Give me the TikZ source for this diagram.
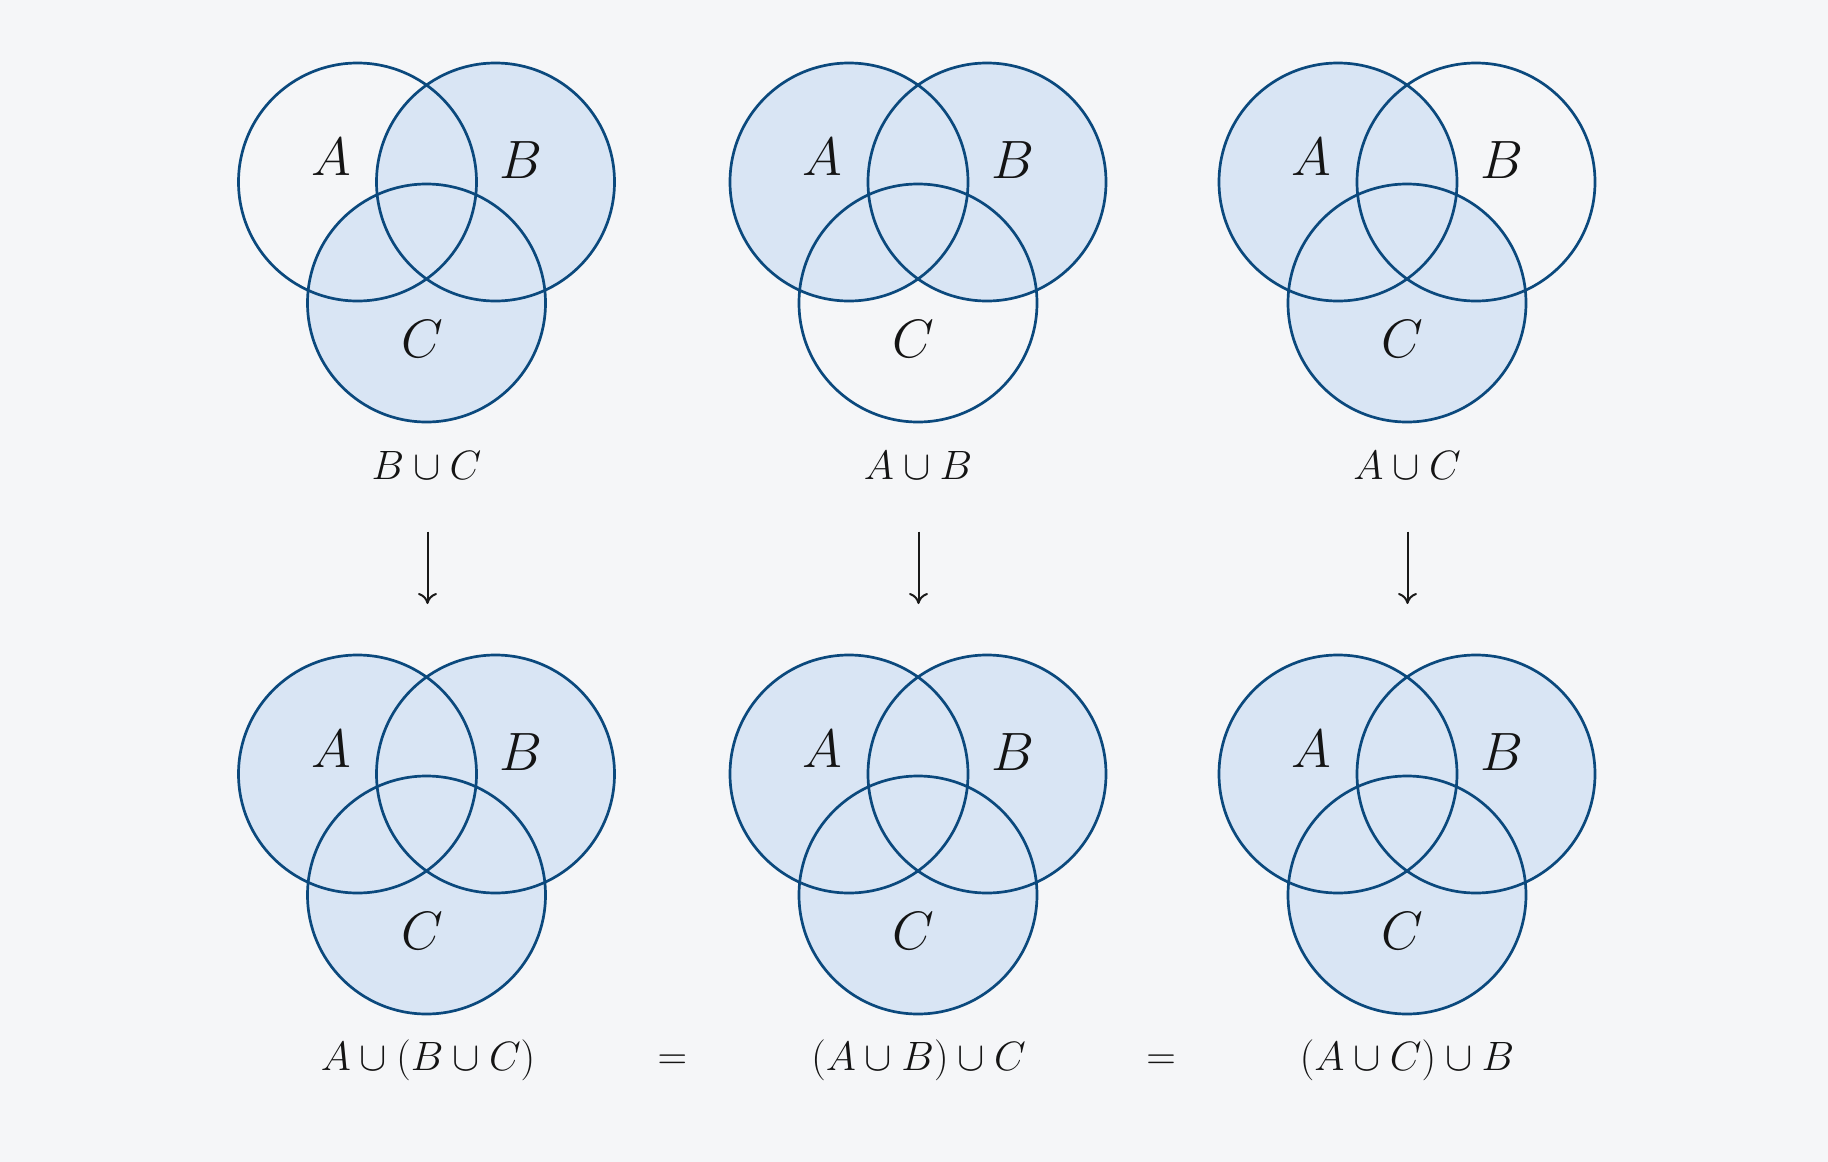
\RequirePackage{fix-cm}
\documentclass[tikz,border=0pt]{standalone}
\usepackage{amsmath,amssymb}
\usepackage{tikz}
\usetikzlibrary{arrows.meta}
\definecolor{bgcol}{HTML}{F5F6F8}
\definecolor{setline}{HTML}{0B497D}
\definecolor{setfill}{HTML}{D9E5F4}
\tikzset{
  setcirc/.style={draw=setline,line width=1.35pt},
  setlbl/.style={font=\fontsize{27}{30}\selectfont,text=black!92},
  exprlbl/.style={font=\fontsize{20.5}{24}\selectfont,text=black!92},
  downarr/.style={-{To[length=5.5pt,width=9.5pt]},line width=1pt,black!90},
}
% #1 name, #2/#3 centre of C (px), #4 sets that are shaded
\newcommand{\venn}[4]{%
  \coordinate (#1A) at (#2-69,#3-121);
  \coordinate (#1B) at (#2+69,#3-121);
  \coordinate (#1C) at (#2,#3);
  \foreach \s in {#4} \fill[setfill] (#1\s) circle[radius=59.5pt];
  \foreach \s in {A,B,C} \draw[setcirc] (#1\s) circle[radius=59.5pt];
  \node[setlbl] (#1lA) at (#2-95.5,#3-146) {$A$};
  \node[setlbl] (#1lB) at (#2+94.5,#3-143) {$B$};
  \node[setlbl] (#1lC) at (#2-4.5,#3+36) {$C$};
}

\begin{document}
\begin{tikzpicture}[x=0.5pt,y=-0.5pt]
  \fill[bgcol] (0,0) rectangle (1828,1162);
  % top row
  \venn{t1}{426.5}{303}{B,C}
  \venn{t2}{918}{303}{A,B}
  \venn{t3}{1407}{303}{A,C}
  \node[exprlbl] (e1) at (426.5,465) {$B\cup C$};
  \node[exprlbl] (e2) at (918,465) {$A\cup B$};
  \node[exprlbl] (e3) at (1407,465) {$A\cup C$};
  % bottom row
  \venn{b1}{426.5}{895}{A,B,C}
  \venn{b2}{918}{895}{A,B,C}
  \venn{b3}{1407}{895}{A,B,C}
  \node[exprlbl] (r1) at (428,1060) {$A\cup(B\cup C)$};
  \node[exprlbl] (r2) at (918.5,1060) {$(A\cup B)\cup C$};
  \node[exprlbl] (r3) at (1407,1060) {$(A\cup C)\cup B$};
  \node[exprlbl] (eq1) at (672.5,1062) {$=$};
  \node[exprlbl] (eq2) at (1161,1062) {$=$};
  % arrows between the rows
  \foreach \i/\x in {1/427.5,2/918.5,3/1407.5} {
    \coordinate (s\i) at (\x,531.5);
    \coordinate (f\i) at (\x,604);
    \draw[downarr] (s\i) -- (f\i);
  }
\end{tikzpicture}
\end{document}
